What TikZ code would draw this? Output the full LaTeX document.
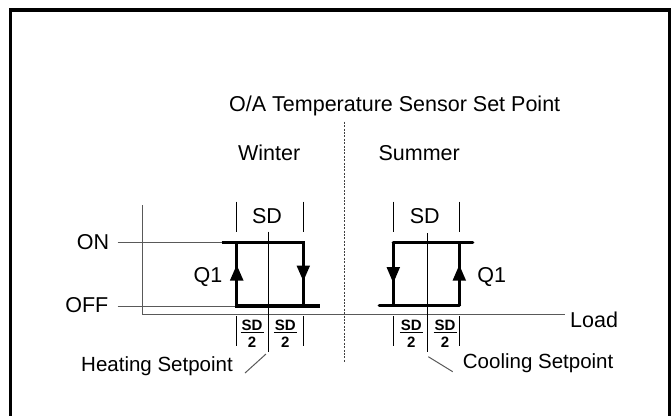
\documentclass[tikz,border=0pt]{standalone}
\usepackage{fontspec}
\setmainfont{Liberation Sans}
\begin{document}
\begin{tikzpicture}[x=1pt,y=-1pt,
  txt/.style={inner sep=0pt,font=\fontsize{21.5}{25}\selectfont},
  txtn/.style={inner sep=0pt,font=\fontsize{20.5}{24}\selectfont},
  frac/.style={inner sep=0pt,font=\fontsize{15}{17}\selectfont\bfseries},
  thinline/.style={draw=black!65,line width=1pt},
  tick/.style={draw=black,line width=1.3pt},
  thick/.style={draw=black,line width=3.4pt},
  fracrule/.style={draw=black,line width=1.3pt},
  arrowhead/.style={fill=black},
  border/.style={draw=black,line width=3.4pt},
  divider/.style={draw=black!75,line width=0.9pt,dash pattern=on 2pt off 1.4pt}]
\useasboundingbox (0,0) rectangle (671,415);
% frame
\draw[border] (10.7,425) -- (10.7,10) -- (669.3,10) -- (669.3,425);

% texts
\node[txt,anchor=base] (title) at (394.7,111.5) {O/A Temperature Sensor Set Point};
\node[txt,anchor=base] (winter) at (269.2,160) {Winter};
\node[txt,anchor=base] (summer) at (419.2,160) {Summer};
\node[txt,anchor=base] (sdw) at (267,223) {SD};
\node[txt,anchor=base] (sds) at (424.7,223) {SD};
\node[txt,anchor=base east] (on) at (109.3,249) {ON};
\node[txt,anchor=base east] (off) at (108.5,312.5) {OFF};
\node[txt,anchor=base] (q1w) at (208,282.5) {Q1};
\node[txt,anchor=base] (q1s) at (491.7,282.5) {Q1};
\node[txt,anchor=base west] (load) at (570,327) {Load};
\node[txtn,anchor=base east] (heat) at (233,371.5) {Heating Setpoint};
\node[txtn,anchor=base west] (cool) at (462.7,368) {Cooling Setpoint};

% fractions SD/2
\foreach \n/\x in {fa/252,fb/285.3,fc/411.3,fd/445}{
  \node[frac,anchor=base] (\n n) at (\x,330) {SD};
  \node[frac,anchor=base] (\n d) at (\x,347.5) {2};
  \draw[fracrule] (\x-11.5,332.5) -- (\x+11.5,332.5);
}

% divider
\coordinate (dvt) at (344.7,121.7);
\coordinate (dvb) at (344.7,362);
\draw[divider] (dvt) -- (dvb);

% axes
\coordinate (axtop) at (142.3,205);
\coordinate (axorg) at (142.3,314.5);
\coordinate (axend) at (565,314.5);
\draw[thinline] (axtop) -- (axorg) -- (axend);
\draw[thinline] (117.7,242.7) -- (221.7,242.7);
\draw[thinline] (117.7,306) -- (236.7,306);

% ticks
\foreach \x in {236.7,303.3,393.3,459.3}{
  \draw[tick] (\x,201.7) -- (\x,231.7);
  \draw[tick] (\x,316) -- (\x,346);
}
% setpoint lines
\draw[tick] (268.3,231.7) -- (268.3,351.7);
\draw[tick] (427.3,233) -- (427.3,351.7);

% winter loop
\draw[thick] (221.7,242.7) -- (303.3,242.7) -- (303.3,306);
\draw[thick] (236.7,242.7) -- (236.7,306) -- (320,306);
\fill[arrowhead] (236.7,265) -- (243.5,280.5) -- (229.9,280.5) -- cycle;
\fill[arrowhead] (303.3,281) -- (310.1,265.5) -- (296.5,265.5) -- cycle;

% summer loop
\draw[thick,line cap=round] (393.3,242.7) -- (472.7,242.7);
\draw[thick] (393.3,242.7) -- (393.3,305.7);
\draw[thick,line cap=round] (379.3,305.7) -- (459.3,305.7);
\draw[thick] (459.3,305.7) -- (459.3,242.7);
\fill[arrowhead] (393.3,283) -- (400.1,267) -- (386.5,267) -- cycle;
\fill[arrowhead] (459.3,265) -- (466.1,280.7) -- (452.5,280.7) -- cycle;

% setpoint leaders
\draw[thinline] (245,373) -- (266,354);
\draw[thinline] (428.3,356.7) -- (452.7,371.7);
\end{tikzpicture}
\end{document}
